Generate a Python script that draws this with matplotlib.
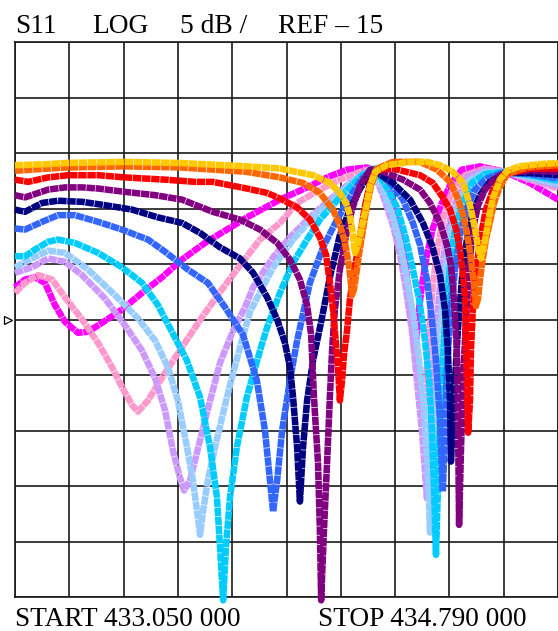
import matplotlib
matplotlib.use("Agg")
import matplotlib.pyplot as plt
import matplotlib.transforms as mtransforms
import numpy as np

# ---- axis settings (network analyzer display) ----
start_mhz = 433.050
stop_mhz = 434.790
ref_db = -15.0
scale_db = 5.0
header_labels = ["S11", "LOG", "5 dB /", "REF \u2013 15"]
footer_labels = ["START 433.050 000", "STOP 434.790 000"]

# ---- traces: frequency (MHz) and S11 (dB) ----
gold_f = [433.050, 433.156, 433.210, 433.402, 433.579, 433.793, 433.899, 434.005, 434.059, 434.091, 434.111, 434.123, 434.133, 434.139, 434.149, 434.162, 434.175, 434.188, 434.204, 434.242, 434.316, 434.370, 434.412, 434.453, 434.486, 434.508, 434.524, 434.534, 434.543, 434.553, 434.562, 434.572, 434.582, 434.604, 434.627, 434.668, 434.732, 434.790]
gold_db = [-1.1, -1.0, -0.9, -0.8, -0.9, -1.2, -1.4, -2.0, -2.7, -3.6, -4.5, -5.6, -7.4, -9.0, -8.3, -6.5, -4.9, -2.9, -1.7, -1.1, -0.8, -0.8, -1.1, -1.7, -2.7, -4.7, -6.8, -8.6, -9.5, -8.3, -6.9, -5.3, -4.0, -2.4, -1.6, -1.2, -1.0, -0.9]

orange_f = [433.050, 433.156, 433.220, 433.402, 433.579, 433.793, 433.899, 433.973, 434.027, 434.069, 434.091, 434.107, 434.120, 434.127, 434.130, 434.136, 434.143, 434.152, 434.165, 434.178, 434.191, 434.210, 434.261, 434.348, 434.402, 434.444, 434.469, 434.486, 434.498, 434.511, 434.521, 434.527, 434.534, 434.540, 434.546, 434.559, 434.572, 434.585, 434.601, 434.627, 434.691, 434.790]
orange_db = [-1.6, -1.4, -1.3, -1.2, -1.3, -1.7, -2.2, -2.7, -3.6, -5.1, -6.5, -8.0, -10.1, -11.9, -12.8, -12.3, -11.0, -9.2, -6.9, -4.7, -2.9, -1.4, -0.8, -0.8, -1.5, -2.6, -4.1, -5.6, -7.2, -9.5, -11.9, -13.8, -13.1, -11.4, -10.1, -7.8, -6.2, -4.5, -3.2, -1.9, -1.3, -1.1]

red_f = [433.050, 433.092, 433.156, 433.220, 433.316, 433.402, 433.531, 433.627, 433.684, 433.793, 433.858, 433.899, 433.954, 433.995, 434.027, 434.047, 434.059, 434.069, 434.075, 434.085, 434.091, 434.098, 434.104, 434.114, 434.123, 434.139, 434.156, 434.172, 434.188, 434.210, 434.261, 434.348, 434.389, 434.421, 434.444, 434.463, 434.476, 434.486, 434.492, 434.495, 434.498, 434.502, 434.508, 434.511, 434.517, 434.524, 434.534, 434.543, 434.559, 434.582, 434.620, 434.700, 434.790]
red_db = [-2.4, -2.6, -2.2, -2.0, -2.0, -2.2, -2.4, -2.6, -2.6, -3.2, -3.6, -4.1, -4.9, -6.0, -7.6, -9.2, -11.7, -14.1, -16.0, -19.3, -22.3, -20.5, -18.2, -16.0, -13.2, -10.3, -7.4, -4.7, -2.7, -1.5, -1.4, -2.0, -2.7, -4.0, -5.1, -6.8, -8.7, -11.0, -13.2, -16.9, -20.5, -25.2, -22.3, -17.8, -14.1, -11.4, -9.2, -7.4, -5.1, -3.3, -1.9, -1.4, -1.4]

purple_f = [433.050, 433.082, 433.156, 433.210, 433.265, 433.316, 433.402, 433.499, 433.585, 433.684, 433.771, 433.835, 433.890, 433.931, 433.963, 433.986, 433.999, 434.008, 434.021, 434.027, 434.031, 434.040, 434.050, 434.059, 434.066, 434.075, 434.091, 434.111, 434.130, 434.156, 434.188, 434.220, 434.293, 434.348, 434.380, 434.412, 434.434, 434.447, 434.457, 434.466, 434.469, 434.473, 434.479, 434.486, 434.495, 434.505, 434.517, 434.534, 434.556, 434.588, 434.620, 434.700, 434.790]
purple_db = [-3.8, -4.0, -3.3, -3.1, -3.1, -3.2, -3.5, -3.8, -4.2, -5.3, -6.0, -6.9, -8.1, -9.6, -11.4, -13.7, -16.4, -22.0, -27.9, -34.0, -40.3, -34.0, -27.9, -22.0, -17.8, -14.1, -10.5, -7.4, -5.1, -2.9, -1.5, -1.6, -2.4, -3.3, -4.5, -6.3, -8.3, -10.1, -13.2, -17.8, -22.3, -33.5, -26.8, -20.5, -15.0, -10.5, -6.9, -4.7, -3.3, -2.3, -1.8, -1.6, -1.7]

navy_f = [433.050, 433.082, 433.137, 433.188, 433.265, 433.338, 433.425, 433.508, 433.585, 433.643, 433.707, 433.771, 433.813, 433.858, 433.890, 433.915, 433.931, 433.941, 433.954, 433.963, 433.973, 433.986, 434.005, 434.034, 434.059, 434.091, 434.123, 434.156, 434.194, 434.261, 434.316, 434.357, 434.386, 434.412, 434.428, 434.437, 434.444, 434.447, 434.453, 434.460, 434.469, 434.482, 434.498, 434.517, 434.540, 434.572, 434.620, 434.700, 434.790]
navy_db = [-5.1, -5.3, -4.5, -4.3, -4.4, -4.7, -5.1, -5.8, -6.3, -7.2, -8.5, -9.5, -10.8, -13.0, -15.0, -17.1, -19.3, -22.0, -26.5, -31.4, -26.5, -22.3, -18.7, -14.8, -11.2, -7.4, -5.1, -3.2, -1.5, -2.7, -4.2, -6.3, -8.3, -11.0, -14.1, -17.8, -22.3, -27.8, -24.1, -20.5, -16.0, -11.4, -7.8, -5.3, -3.8, -2.6, -1.8, -1.8, -2.0]

blue_f = [433.050, 433.082, 433.137, 433.188, 433.242, 433.316, 433.393, 433.476, 433.531, 433.604, 433.668, 433.723, 433.781, 433.825, 433.851, 433.867, 433.877, 433.890, 433.906, 433.931, 433.954, 433.995, 434.037, 434.082, 434.123, 434.162, 434.204, 434.252, 434.293, 434.325, 434.348, 434.370, 434.386, 434.399, 434.412, 434.421, 434.428, 434.434, 434.444, 434.460, 434.476, 434.498, 434.524, 434.562, 434.620, 434.700, 434.790]
blue_db = [-6.8, -6.9, -6.2, -5.6, -5.6, -6.2, -6.9, -7.8, -8.9, -10.5, -11.7, -13.9, -16.4, -20.5, -25.0, -29.5, -32.3, -29.5, -25.0, -20.5, -16.9, -11.7, -8.5, -6.0, -4.0, -2.3, -1.4, -2.7, -4.2, -6.3, -8.3, -11.4, -15.0, -18.7, -24.1, -30.5, -25.0, -19.6, -15.0, -10.5, -7.4, -5.0, -3.3, -2.3, -1.7, -1.9, -2.3]

cyan_f = [433.050, 433.082, 433.114, 433.156, 433.188, 433.242, 433.316, 433.393, 433.457, 433.508, 433.547, 433.601, 433.643, 433.675, 433.697, 433.707, 433.717, 433.726, 433.739, 433.761, 433.793, 433.835, 433.858, 433.899, 433.941, 433.986, 434.027, 434.075, 434.123, 434.162, 434.204, 434.242, 434.274, 434.300, 434.322, 434.345, 434.364, 434.377, 434.386, 434.393, 434.399, 434.405, 434.412, 434.421, 434.431, 434.444, 434.460, 434.482, 434.514, 434.556, 434.620, 434.700, 434.790]
cyan_db = [-9.3, -9.3, -8.7, -8.0, -7.8, -8.1, -9.0, -10.3, -11.7, -13.7, -15.8, -18.7, -22.0, -26.5, -31.0, -35.5, -40.3, -35.5, -31.0, -26.5, -22.0, -17.8, -15.7, -12.6, -9.9, -7.8, -6.0, -4.5, -3.1, -2.0, -1.4, -3.1, -4.9, -7.4, -10.1, -13.2, -16.9, -20.5, -25.0, -30.4, -36.2, -30.4, -24.1, -18.7, -14.1, -10.1, -6.9, -4.7, -2.7, -1.9, -1.7, -2.0, -2.5]

lblue_f = [433.050, 433.104, 433.156, 433.210, 433.284, 433.370, 433.444, 433.499, 433.540, 433.572, 433.601, 433.620, 433.636, 433.643, 433.652, 433.668, 433.691, 433.729, 433.771, 433.803, 433.877, 433.941, 434.011, 434.075, 434.139, 434.194, 434.229, 434.261, 434.284, 434.306, 434.329, 434.345, 434.361, 434.373, 434.380, 434.389, 434.399, 434.412, 434.425, 434.441, 434.463, 434.508, 434.556, 434.620, 434.700, 434.790]
lblue_db = [-10.3, -9.5, -8.8, -9.0, -10.5, -12.8, -14.9, -16.9, -19.3, -22.3, -26.5, -29.5, -32.8, -34.4, -32.4, -29.5, -26.5, -22.0, -17.5, -14.3, -10.3, -7.8, -5.6, -4.0, -2.4, -1.4, -3.3, -5.8, -8.1, -11.4, -15.0, -18.7, -23.2, -28.6, -34.2, -28.6, -22.3, -16.0, -11.4, -7.8, -5.1, -2.4, -1.7, -1.7, -2.2, -2.8]

lav_f = [433.050, 433.104, 433.156, 433.210, 433.265, 433.338, 433.402, 433.457, 433.499, 433.531, 433.556, 433.579, 433.592, 433.611, 433.633, 433.665, 433.707, 433.749, 433.787, 433.813, 433.877, 433.931, 433.995, 434.059, 434.123, 434.194, 434.229, 434.261, 434.284, 434.303, 434.322, 434.338, 434.354, 434.370, 434.380, 434.389, 434.402, 434.415, 434.431, 434.453, 434.502, 434.556, 434.620, 434.700, 434.790]
lav_db = [-10.8, -10.3, -9.5, -9.8, -11.0, -13.1, -15.5, -17.8, -20.3, -23.2, -26.8, -29.3, -30.4, -29.5, -27.0, -23.4, -18.9, -16.0, -13.9, -12.1, -9.4, -7.6, -5.8, -4.2, -2.7, -1.4, -3.8, -6.5, -9.2, -12.3, -16.0, -20.5, -25.0, -31.1, -25.9, -20.5, -15.0, -11.0, -7.7, -5.0, -2.1, -1.5, -1.7, -2.3, -3.0]

pink_f = [433.050, 433.082, 433.124, 433.169, 433.210, 433.265, 433.316, 433.361, 433.393, 433.425, 433.444, 433.476, 433.531, 433.585, 433.649, 433.713, 433.777, 433.835, 433.899, 433.954, 434.027, 434.091, 434.156, 434.194, 434.220, 434.252, 434.277, 434.300, 434.319, 434.335, 434.348, 434.357, 434.367, 434.377, 434.389, 434.405, 434.425, 434.450, 434.492, 434.556, 434.620, 434.700, 434.790]
pink_db = [-12.6, -11.7, -11.0, -11.4, -13.0, -15.0, -17.1, -19.3, -21.1, -22.7, -23.3, -22.3, -19.8, -17.5, -14.8, -12.3, -9.9, -7.8, -6.3, -4.5, -3.3, -2.4, -1.7, -1.4, -2.4, -4.7, -7.4, -10.5, -14.1, -17.8, -20.9, -23.9, -20.5, -16.0, -11.9, -8.3, -5.6, -3.5, -2.0, -1.4, -1.7, -2.4, -3.2]

mag_f = [433.050, 433.082, 433.114, 433.146, 433.178, 433.210, 433.252, 433.284, 433.329, 433.393, 433.457, 433.521, 433.585, 433.659, 433.793, 433.899, 433.986, 434.050, 434.114, 434.178, 434.210, 434.242, 434.268, 434.290, 434.309, 434.322, 434.332, 434.341, 434.354, 434.370, 434.389, 434.415, 434.444, 434.482, 434.540, 434.620, 434.700, 434.790]
mag_db = [-12.1, -11.4, -11.2, -11.7, -13.7, -15.2, -16.2, -16.1, -15.3, -14.1, -12.6, -11.2, -9.6, -8.1, -5.8, -4.2, -3.1, -2.2, -1.5, -1.3, -1.7, -2.9, -4.9, -7.8, -11.9, -15.0, -17.8, -15.0, -11.9, -9.2, -6.8, -4.7, -2.9, -1.5, -1.2, -1.7, -2.7, -4.2]

# drawing order: first drawn is lowest
traces = [
    (mag_f, mag_db, "#FF00FF"),
    (pink_f, pink_db, "#FF99CC"),
    (lav_f, lav_db, "#CC99FF"),
    (lblue_f, lblue_db, "#99CCFF"),
    (cyan_f, cyan_db, "#00CCFF"),
    (blue_f, blue_db, "#3366FF"),
    (navy_f, navy_db, "#000080"),
    (purple_f, purple_db, "#800080"),
    (red_f, red_db, "#FF0000"),
    (orange_f, orange_db, "#FF6600"),
    (gold_f, gold_db, "#FFC800"),
]

W, H = 558, 631
fig = plt.figure(figsize=(W / 100, H / 100), dpi=100)
fig.patch.set_facecolor("white")
ax = fig.add_axes([15 / W, (H - 597) / H, 543 / W, 555 / H])

top_db = ref_db + 5 * scale_db
bot_db = ref_db - 5 * scale_db
ax.set_xlim(start_mhz, stop_mhz)
ax.set_ylim(bot_db, top_db)
ax.set_xticks(np.linspace(start_mhz, stop_mhz, 11))
ax.set_yticks(np.arange(bot_db, top_db + 0.1, scale_db))
ax.grid(True, color="#1a1a1a", linewidth=1.2)
ax.tick_params(length=0, labelbottom=False, labelleft=False)
for s in ax.spines.values():
    s.set_color("#1a1a1a")
    s.set_linewidth(1.2)
ax.set_axisbelow(True)

for f, db, c in traces:
    ax.plot(f, db, color=c, linewidth=4.7, linestyle=(0, (1.3, 0.1)),
            dash_joinstyle="round", dash_capstyle="butt",
            clip_on=False, zorder=3)

# reference level marker
trans = mtransforms.blended_transform_factory(ax.transAxes, ax.transData)
ax.plot([-0.012], [ref_db], marker=">", markersize=5.5, markerfacecolor="white",
        markeredgecolor="black", markeredgewidth=0.9, transform=trans, clip_on=False)

font = dict(family="Liberation Serif", fontsize=19.7, color="black")
hx = [15, 92, 180, 278]
for x, t in zip(hx, header_labels):
    fig.text(x / W, 1 - 33 / H, t, ha="left", va="baseline", **font)
fx = [15, 318]
for x, t in zip(fx, footer_labels):
    fig.text(x / W, 1 - 626 / H, t, ha="left", va="baseline", **font)

fig.savefig("out.png", dpi=100)
